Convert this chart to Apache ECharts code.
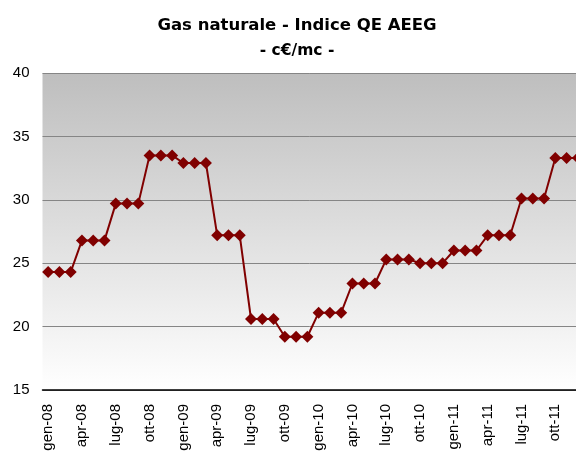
<!DOCTYPE html>
<html>
<head>
<meta charset="utf-8">
<script src="https://cdn.jsdelivr.net/npm/echarts@6/dist/echarts.min.js"></script>
<style>
  html, body { margin: 0; padding: 0; background: #fff; }
  #chart { width: 576px; height: 473px; }
</style>
</head>
<body>
<div id="chart"></div>
<script>
// mesi (gen-08 ... dic-11)
const months = [
  "gen-08", "feb-08", "mar-08", "apr-08", "mag-08", "giu-08", "lug-08", "ago-08", "set-08", "ott-08", "nov-08", "dic-08",
  "gen-09", "feb-09", "mar-09", "apr-09", "mag-09", "giu-09", "lug-09", "ago-09", "set-09", "ott-09", "nov-09", "dic-09",
  "gen-10", "feb-10", "mar-10", "apr-10", "mag-10", "giu-10", "lug-10", "ago-10", "set-10", "ott-10", "nov-10", "dic-10",
  "gen-11", "feb-11", "mar-11", "apr-11", "mag-11", "giu-11", "lug-11", "ago-11", "set-11", "ott-11", "nov-11", "dic-11"
];

// indice QE AEEG, c€/mc
const qeValues = [
  24.3, 24.3, 24.3, 26.8, 26.8, 26.8, 29.7, 29.7, 29.7, 33.5, 33.5, 33.5,
  32.9, 32.9, 32.9, 27.2, 27.2, 27.2, 20.6, 20.6, 20.6, 19.2, 19.2, 19.2,
  21.1, 21.1, 21.1, 23.4, 23.4, 23.4, 25.3, 25.3, 25.3, 25.0, 25.0, 25.0,
  26.0, 26.0, 26.0, 27.2, 27.2, 27.2, 30.1, 30.1, 30.1, 33.3, 33.3, 33.3
];

const yTicks = [15, 20, 25, 30, 35, 40];

const chart = echarts.init(document.getElementById("chart"));

const option = {
  animation: false,
  title: {
    text: "Gas naturale - Indice QE AEEG",
    subtext: "- c€/mc -",
    left: 292,
    top: 12,
    textAlign: "center",
    itemGap: 9,
    textStyle: {
      fontFamily: "DejaVu Sans",
      fontWeight: "bold",
      fontSize: 16.5,
      color: "#000"
    },
    subtextStyle: {
      fontFamily: "DejaVu Sans",
      fontWeight: "bold",
      fontSize: 15.5,
      color: "#000"
    }
  },
  grid: {
    left: 42.5,
    top: 73,
    width: 541, // l'area del grafico esce a destra dal riquadro
    height: 317,
    outerBoundsMode: "none",
    show: true,
    borderWidth: 0,
    // sfondo sfumato grigio -> bianco
    backgroundColor: new echarts.graphic.LinearGradient(0, 0, 0, 1, [
      { offset: 0, color: "#bebebe" },
      { offset: 1, color: "#ffffff" }
    ])
  },
  xAxis: {
    type: "category",
    data: months,
    boundaryGap: true,
    axisLine: { lineStyle: { color: "#000", width: 1.5 } },
    axisTick: { interval: 2, length: 6, lineStyle: { color: "#000", width: 1.5 } },
    axisLabel: {
      interval: 2,
      rotate: 90,
      margin: 14,
      fontFamily: "Liberation Sans",
      fontSize: 15,
      color: "#000"
    }
  },
  yAxis: {
    type: "value",
    min: yTicks[0],
    max: yTicks[yTicks.length - 1],
    interval: 5,
    axisLine: { show: false },
    axisTick: { show: false },
    axisLabel: {
      margin: 13,
      fontFamily: "Liberation Sans",
      fontSize: 15,
      color: "#000"
    },
    splitLine: { lineStyle: { color: "#858585", width: 1 } }
  },
  series: [
    {
      type: "line",
      data: qeValues,
      symbol: "diamond",
      symbolSize: 12,
      showAllSymbol: true,
      itemStyle: { color: "#800000" },
      lineStyle: { color: "#800000", width: 2 }
    }
  ]
};

chart.setOption(option);
</script>
</body>
</html>
